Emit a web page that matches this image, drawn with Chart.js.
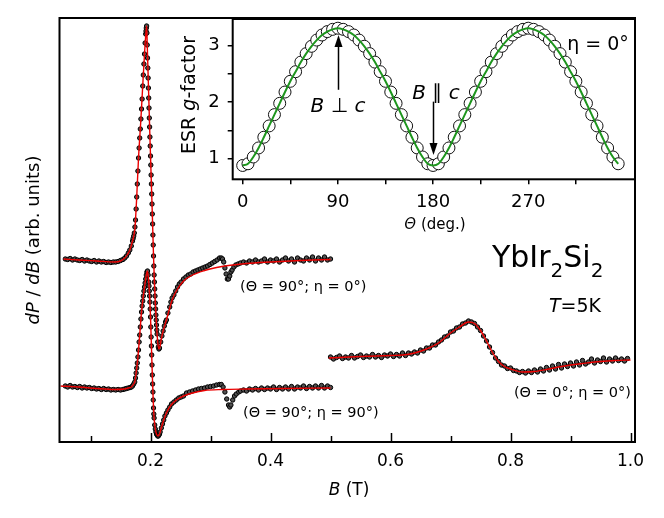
<!DOCTYPE html>
<html><head><meta charset="utf-8">
<script src="https://cdn.jsdelivr.net/npm/chart.js@4.4.1/dist/chart.umd.min.js"></script>
<style>
html,body{margin:0;padding:0;background:#fff;}
#wrap{position:relative;width:664px;height:518px;}
#main{position:absolute;left:0;top:0;}
#inset{position:absolute;left:160px;top:0;}
</style></head>
<body><div id="wrap"><canvas id="main" width="664" height="518"></canvas><canvas id="inset" width="490" height="240"></canvas></div>
<script>
// ---------- DATA (B in tesla, dP/dB in arbitrary units incl. vertical offset) ----------
const specA = [[0.058,183],[0.062,182.5],[0.066,183.5],[0.070,182],[0.074,183],[0.078,182],[0.082,181.5],[0.086,182.5],[0.090,181],[0.094,182],[0.098,181],[0.102,180.5],[0.106,181.5],[0.110,180],[0.114,181],[0.118,180],[0.122,180.5],[0.126,179.5],[0.130,180],[0.134,179.5],[0.138,180],[0.142,180],[0.146,180.5],[0.150,181.5],[0.154,182.5],[0.157,184],[0.160,186],[0.163,189],[0.1655,192],[0.168,196],[0.170,201],[0.171,203.5],[0.172,206],[0.173,209],[0.174,215],[0.175,222],[0.176,233],[0.177,245],[0.178,258],[0.179,271],[0.180,284],[0.181,294],[0.182,304],[0.183,313],[0.184,323],[0.185,333],[0.186,343],[0.187,356],[0.188,367],[0.189,378],[0.190,388],[0.191,399],[0.192,408],[0.1925,411],[0.193,414],[0.1935,416],[0.194,409],[0.1945,397],[0.195,384],[0.1955,374],[0.196,364],[0.1965,354],[0.197,344],[0.1975,334],[0.198,324],[0.1985,315],[0.199,305],[0.1995,296],[0.200,286],[0.2005,277],[0.201,267],[0.2015,258],[0.202,248],[0.2025,238],[0.203,228],[0.2035,218],[0.204,207],[0.2045,197],[0.205,186],[0.2055,176],[0.206,167],[0.2065,160],[0.207,153],[0.2075,146],[0.208,139],[0.2085,133],[0.209,127],[0.2095,122],[0.210,117],[0.2105,112],[0.211,108],[0.212,100],[0.213,95],[0.214,93],[0.215,94],[0.217,100],[0.219,106],[0.221,111],[0.223,116],[0.225,120],[0.2265,122],[0.229,129],[0.232,135],[0.234,140],[0.236,144],[0.239,147],[0.242,151],[0.245,155],[0.248,158],[0.251,160],[0.255,163],[0.259,165],[0.263,167],[0.267,168],[0.271,170],[0.275,171],[0.279,172],[0.283,173],[0.287,174],[0.291,175],[0.295,176],[0.299,177.5],[0.303,179],[0.307,180.5],[0.311,182],[0.315,184],[0.318,184],[0.320,183],[0.322,180],[0.324,174],[0.326,168],[0.328,163],[0.330,163],[0.332,166],[0.334,170],[0.336,172],[0.339,175],[0.342,177],[0.346,178],[0.350,179],[0.355,180],[0.360,179],[0.365,181],[0.370,180],[0.375,182],[0.380,180],[0.385,181],[0.390,183],[0.395,180],[0.400,182],[0.405,181],[0.410,183],[0.415,180],[0.420,182],[0.425,184],[0.430,181],[0.435,183],[0.440,180],[0.445,184],[0.450,182],[0.455,181],[0.460,184],[0.465,182],[0.470,185],[0.475,181],[0.480,184],[0.485,182],[0.490,185],[0.495,182],[0.500,183]];
const fitA = [[0.055,183],[0.08,182],[0.11,181],[0.14,180],[0.15,181],[0.157,184],[0.1615,187.5],[0.1655,192],[0.170,201],[0.1737,212],[0.175,222],[0.177,245],[0.180,284],[0.1837,320],[0.187,356],[0.1904,392],[0.1925,410],[0.1935,416],[0.1945,398],[0.199,305],[0.203,228],[0.205,186],[0.2065,160],[0.208,139],[0.210,117],[0.212,100],[0.2137,93],[0.2155,95],[0.218,103],[0.221,111],[0.2265,122],[0.232,134],[0.236,142],[0.243,151],[0.255,161],[0.270,167],[0.290,171.5],[0.310,174.5],[0.330,176.5],[0.360,178.5],[0.400,180],[0.450,181.5],[0.500,182.5]];
const specB = [[0.058,56],[0.062,55],[0.066,56.5],[0.070,55],[0.074,55.5],[0.078,54.5],[0.082,55.5],[0.086,54],[0.090,55],[0.094,54],[0.098,54.5],[0.102,53.5],[0.106,54],[0.110,53],[0.114,53.5],[0.118,52.5],[0.122,53.5],[0.126,52.5],[0.130,53],[0.134,52],[0.138,52.5],[0.142,52],[0.146,52.5],[0.150,52],[0.154,52.5],[0.157,53],[0.160,53.5],[0.163,54],[0.166,54.5],[0.168,55],[0.170,56],[0.172,58],[0.1737,60],[0.175,64],[0.176,69],[0.177,74],[0.178,79],[0.179,85],[0.180,92],[0.181,100],[0.182,107],[0.183,115],[0.184,123],[0.185,130],[0.186,136],[0.187,141],[0.188,146],[0.189,151],[0.190,155],[0.191,159],[0.192,163],[0.193,167],[0.194,170],[0.195,171],[0.196,167],[0.197,160],[0.1975,156],[0.198,151],[0.1985,146],[0.199,140],[0.1995,133],[0.200,125],[0.2005,115],[0.201,105],[0.2015,96],[0.202,87],[0.2025,77],[0.203,67],[0.2035,58],[0.204,50],[0.2045,42],[0.205,34],[0.2055,28],[0.206,24],[0.207,17],[0.208,13],[0.209,10],[0.210,8],[0.211,7],[0.212,6],[0.213,6],[0.214,7],[0.215,8],[0.216,10],[0.218,14],[0.220,18],[0.222,22],[0.224,26],[0.2265,29],[0.229,32],[0.232,35],[0.235,38],[0.239,40],[0.243,42],[0.247,44],[0.251,45],[0.255,46],[0.260,49],[0.265,50],[0.270,51],[0.275,52],[0.280,53],[0.285,53.5],[0.290,54],[0.295,55],[0.300,55.5],[0.305,56],[0.310,57],[0.315,57.5],[0.318,57.5],[0.321,55],[0.324,50],[0.327,43],[0.330,37],[0.332,35],[0.334,37],[0.337,42],[0.340,46],[0.343,48],[0.347,50],[0.350,51],[0.355,52],[0.360,51],[0.365,53],[0.370,52],[0.375,53.5],[0.380,52],[0.385,54],[0.390,52.5],[0.395,54],[0.400,53],[0.405,55],[0.410,52.5],[0.415,54.5],[0.420,53],[0.425,55],[0.430,53],[0.435,55.5],[0.440,53],[0.445,55],[0.450,54],[0.455,56],[0.460,53.5],[0.465,55.5],[0.470,54],[0.475,56],[0.480,54],[0.485,56.5],[0.490,54],[0.495,56],[0.500,54.5]];
const fitB = [[0.050,56],[0.08,55],[0.11,53.5],[0.14,52.5],[0.157,53],[0.163,54],[0.168,55],[0.172,58],[0.1737,60],[0.176,69],[0.179,85],[0.182,107],[0.185,130],[0.188,146],[0.191,159],[0.193,167],[0.1948,171],[0.1965,164],[0.1985,146],[0.200,125],[0.2015,96],[0.203,67],[0.2045,42],[0.206,24],[0.208,13],[0.210,8],[0.2125,6],[0.215,8],[0.218,14],[0.222,22],[0.2265,29],[0.233,36],[0.243,42],[0.255,46],[0.270,49],[0.290,51.5],[0.320,52.5],[0.360,53],[0.420,53.5],[0.500,54]];
const specC = [[0.500,85],[0.505,83],[0.510,84.5],[0.515,86],[0.520,83.5],[0.525,85],[0.530,84],[0.535,86.5],[0.540,84],[0.545,85.5],[0.550,87],[0.555,84.5],[0.560,86],[0.565,85],[0.570,87.5],[0.575,85],[0.580,86.5],[0.585,84.5],[0.590,87],[0.595,86],[0.600,88],[0.605,85.5],[0.610,87.5],[0.615,86],[0.620,89],[0.625,86.5],[0.630,89],[0.635,88],[0.640,90],[0.645,89],[0.650,92],[0.655,91],[0.660,94],[0.665,94],[0.670,97],[0.675,97],[0.680,100],[0.685,102],[0.690,105],[0.695,106],[0.700,110],[0.705,111],[0.710,114],[0.715,115],[0.720,118],[0.725,119],[0.730,121],[0.735,120],[0.740,118.5],[0.745,115],[0.750,111.5],[0.755,106],[0.760,101],[0.765,95],[0.770,89.5],[0.775,84],[0.780,80.5],[0.785,77],[0.790,76],[0.795,73.5],[0.800,74],[0.805,71.5],[0.810,71],[0.815,69.5],[0.820,70.5],[0.825,69],[0.830,71],[0.835,69.5],[0.840,72],[0.845,70],[0.850,73],[0.855,71],[0.860,74.5],[0.865,72],[0.870,76],[0.875,73],[0.880,77.5],[0.885,74],[0.890,78],[0.895,75.5],[0.900,79],[0.905,76],[0.910,80],[0.915,77],[0.920,81.5],[0.925,78],[0.930,80],[0.935,83],[0.940,79],[0.945,82],[0.950,80.5],[0.955,84],[0.960,80],[0.965,83],[0.970,81],[0.975,84],[0.980,81.5],[0.985,83],[0.990,81],[0.995,83.5]];
const fitC = [[0.497,84],[0.55,85.5],[0.60,86.5],[0.62,87],[0.64,89],[0.66,93],[0.68,99],[0.70,109],[0.715,115],[0.73,120],[0.74,118.5],[0.75,111.5],[0.76,101],[0.77,89.5],[0.78,80.5],[0.79,75.5],[0.80,73],[0.82,70],[0.84,70.5],[0.86,72.5],[0.88,75],[0.90,77],[0.92,78.5],[0.95,80.5],[0.975,81.5],[1.0,82]];

// inset: ESR g-factor vs rotation angle Theta (deg)
const theta = [0,5,10,15,20,25,30,35,40,45,50,55,60,65,70,75,80,85,90,95,100,105,110,115,120,125,130,135,140,145,150,155,160,165,170,175,180,185,190,195,200,205,210,215,220,225,230,235,240,245,250,255,260,265,270,275,280,285,290,295,300,305,310,315,320,325,330,335,340,345,350,355];
const gFactor = [0.88,0.91,1.03,1.19,1.38,1.58,1.78,1.98,2.18,2.37,2.54,2.71,2.86,2.99,3.10,3.19,3.25,3.29,3.31,3.29,3.25,3.19,3.10,2.99,2.86,2.71,2.54,2.37,2.18,1.98,1.78,1.58,1.38,1.19,1.03,0.91,0.88,0.91,1.03,1.19,1.38,1.58,1.78,1.98,2.18,2.37,2.54,2.71,2.86,2.99,3.10,3.19,3.25,3.29,3.31,3.29,3.25,3.19,3.10,2.99,2.86,2.71,2.54,2.37,2.18,1.98,1.78,1.58,1.38,1.19,1.03,0.91];

// tick values / labels
const xMajorTicks = [0.2,0.4,0.6,0.8,1.0];
const xMinorTicks = [0.1,0.3,0.5,0.7,0.9];
const insetXTicks = [0,45,90,135,180,225,270,315];
const insetXLabels = [0,90,180,270];
const insetYTicks = [1,1.5,2,2.5,3];
const insetYLabels = [1,2,3];
// annotation arrows (data coordinates of inset)
const arrowPerp = {theta:90, from:2.22, to:3.19};
const arrowPar  = {theta:180, from:2.01, to:1.065};

// ---------- helpers ----------
const FAM = '"DejaVu Sans"';
const toXY = p => ({x:p[0], y:p[1]});
function rich(ctx, parts, x, cy, size, align, rot){
  ctx.save();
  ctx.translate(x, cy);
  if (rot) ctx.rotate(rot);
  ctx.fillStyle = '#000';
  ctx.textBaseline = 'alphabetic';
  const fnt = p => (p[1]==='i' ? 'italic ' : '') + (p[1]==='s' ? Math.round(size*0.68) : size) + 'px ' + FAM;
  const ws = parts.map(p => { ctx.font = fnt(p); return ctx.measureText(p[0]).width; });
  const tot = ws.reduce((a,b)=>a+b,0);
  let cx = align==='center' ? -tot/2 : (align==='right' ? -tot : 0);
  const base = size*0.36;
  parts.forEach((p,i) => {
    ctx.font = fnt(p);
    ctx.fillText(p[0], cx, base + (p[1]==='s' ? size*0.33 : 0));
    cx += ws[i];
  });
  ctx.restore();
}

const RED = 'rgb(235,0,0)';
const GREEN = 'rgb(30,150,30)';

function fitSet(arr){
  return {data: arr.map(toXY), showLine:true, borderColor:RED, borderWidth:1.4, pointRadius:0, cubicInterpolationMode:'monotone', fill:false};
}
function dataSet(arr){
  return {data: arr.map(toXY), showLine:false, pointRadius:2.2, pointBackgroundColor:'#505050', pointBorderColor:'#000', pointBorderWidth:1, pointStyle:'circle'};
}

const mainDeco = {
  id:'mainDeco',
  afterDraw(chart){
    const ctx = chart.ctx, a = chart.chartArea, xs = chart.scales.x;
    ctx.save();
    ctx.strokeStyle = '#000';
    ctx.lineWidth = 2;
    ctx.strokeRect(a.left, a.top, a.right - a.left, a.bottom - a.top);
    ctx.lineWidth = 1.5;
    const tick = (v, len) => { const px = Math.round(xs.getPixelForValue(v)) + 0.5; ctx.beginPath(); ctx.moveTo(px, a.bottom); ctx.lineTo(px, a.bottom - len); ctx.stroke(); };
    xMajorTicks.forEach(v => tick(v, 9));
    xMinorTicks.forEach(v => tick(v, 6));
    ctx.restore();
    // texts
    rich(ctx, [['dP','i'],[' / ',''],['dB','i'],[' (arb. units)','']], 33, 240, 18, 'center', -Math.PI/2);
    rich(ctx, [['B','i'],[' (T)','']], 349, 489, 17, 'center');
    rich(ctx, [['(\u0398 = 90\u00b0; \u03b7 = 0\u00b0)','']], 240, 286, 14.5, 'left');
    rich(ctx, [['(\u0398 = 90\u00b0; \u03b7 = 90\u00b0)','']], 243, 412, 14.5, 'left');
    rich(ctx, [['(\u0398 = 0\u00b0; \u03b7 = 0\u00b0)','']], 631, 392, 14.5, 'right');
    rich(ctx, [['YbIr',''],['2','s'],['Si',''],['2','s']], 492, 256, 30, 'left');
    rich(ctx, [['T','i'],['=5K','']], 575, 305, 19, 'center');
  }
};

new Chart(document.getElementById('main'), {
  type:'scatter',
  data:{datasets:[fitSet(fitA), fitSet(fitB), fitSet(fitC), dataSet(specA), dataSet(specB), dataSet(specC)]},
  options:{
    animation:false, responsive:false, devicePixelRatio:1,
    layout:{padding:{left:59.5, top:18, right:29, bottom:0}},
    plugins:{legend:{display:false}, tooltip:{enabled:false}},
    scales:{
      x:{type:'linear', min:0.0483, max:1.0075,
         afterFit(s){ s.height = 76; },
         afterBuildTicks(s){ s.ticks = xMajorTicks.map(v => ({value:v})); },
         ticks:{font:{family:'DejaVu Sans', size:17}, color:'#000', padding:9, maxRotation:0, autoSkip:false, callback:v => Number(v).toFixed(1)},
         grid:{display:false, drawTicks:false}, border:{display:false}},
      y:{display:false, min:0, max:424}
    }
  },
  plugins:[mainDeco]
});

// ---------- inset ----------
const IX = 160, IY = 0;
function arrow(ctx, x, y0, y1){
  const dir = y1 < y0 ? -1 : 1, hl = 12, hw = 4;
  ctx.beginPath(); ctx.moveTo(x, y0); ctx.lineTo(x, y1 - dir*hl); ctx.stroke();
  ctx.beginPath(); ctx.moveTo(x, y1); ctx.lineTo(x - hw, y1 - dir*hl); ctx.lineTo(x + hw, y1 - dir*hl); ctx.closePath(); ctx.fill();
}
const insetDeco = {
  id:'insetDeco',
  afterDraw(chart){
    const ctx = chart.ctx, a = chart.chartArea, xs = chart.scales.x, ys = chart.scales.y;
    ctx.save();
    ctx.strokeStyle = '#000'; ctx.fillStyle = '#000';
    ctx.lineWidth = 2;
    ctx.strokeRect(a.left, a.top, a.right - a.left, a.bottom - a.top);
    ctx.lineWidth = 1.5;
    arrow(ctx, Math.round(xs.getPixelForValue(arrowPerp.theta))+0.5, ys.getPixelForValue(arrowPerp.from), ys.getPixelForValue(arrowPerp.to));
    arrow(ctx, Math.round(xs.getPixelForValue(arrowPar.theta))+0.5, ys.getPixelForValue(arrowPar.from), ys.getPixelForValue(arrowPar.to));
    ctx.restore();
    rich(ctx, [['ESR ',''],['g','i'],['-factor','']], 188-IX, 95-IY, 19, 'center', -Math.PI/2);
    rich(ctx, [['\u0398','i'],[' (deg.)','']], 435-IX, 224-IY, 15, 'center');
    rich(ctx, [['\u03b7 = 0\u00b0','']], 598-IX, 43-IY, 19, 'center');
    rich(ctx, [['B','i'],[' \u22a5 ',''],['c','i']], 338-IX, 105-IY, 20, 'center');
    rich(ctx, [['B','i'],[' \u2225 ',''],['c','i']], 436-IX, 92-IY, 20, 'center');
  }
};
const gPts = theta.map((t,i) => ({x:t, y:gFactor[i]}));
new Chart(document.getElementById('inset'), {
  type:'scatter',
  data:{datasets:[
    {data:gPts, showLine:true, borderColor:GREEN, borderWidth:2, pointRadius:0, cubicInterpolationMode:'monotone', fill:false},
    {data:gPts, showLine:false, pointRadius:6, pointBackgroundColor:'#fff', pointBorderColor:'#111', pointBorderWidth:1}
  ]},
  options:{
    animation:false, responsive:false, devicePixelRatio:1,
    layout:{padding:{left:0, top:19, right:15, bottom:0}},
    plugins:{legend:{display:false}, tooltip:{enabled:false}},
    scales:{
      x:{type:'linear', min:-9.45, max:370.9,
         afterFit(s){ s.height = 60.7; },
         afterBuildTicks(s){ s.ticks = insetXTicks.map(v => ({value:v})); },
         ticks:{font:{family:'DejaVu Sans', size:18}, color:'#000', padding:7, maxRotation:0, autoSkip:false, callback:v => insetXLabels.includes(v) ? String(v) : ''},
         grid:{display:true, drawOnChartArea:false, drawTicks:true, tickLength:5, color:'#000', lineWidth:1.5}, border:{display:false}},
      y:{type:'linear', min:0.635, max:3.473,
         afterFit(s){ s.width = 72.7; },
         afterBuildTicks(s){ s.ticks = insetYTicks.map(v => ({value:v})); },
         ticks:{font:{family:'DejaVu Sans', size:18}, color:'#000', padding:8, autoSkip:false, callback:v => insetYLabels.includes(v) ? String(v) : ''},
         grid:{display:true, drawOnChartArea:false, drawTicks:true, tickLength:5, color:'#000', lineWidth:1.5}, border:{display:false}}
    }
  },
  plugins:[insetDeco]
});
</script>
</body></html>
